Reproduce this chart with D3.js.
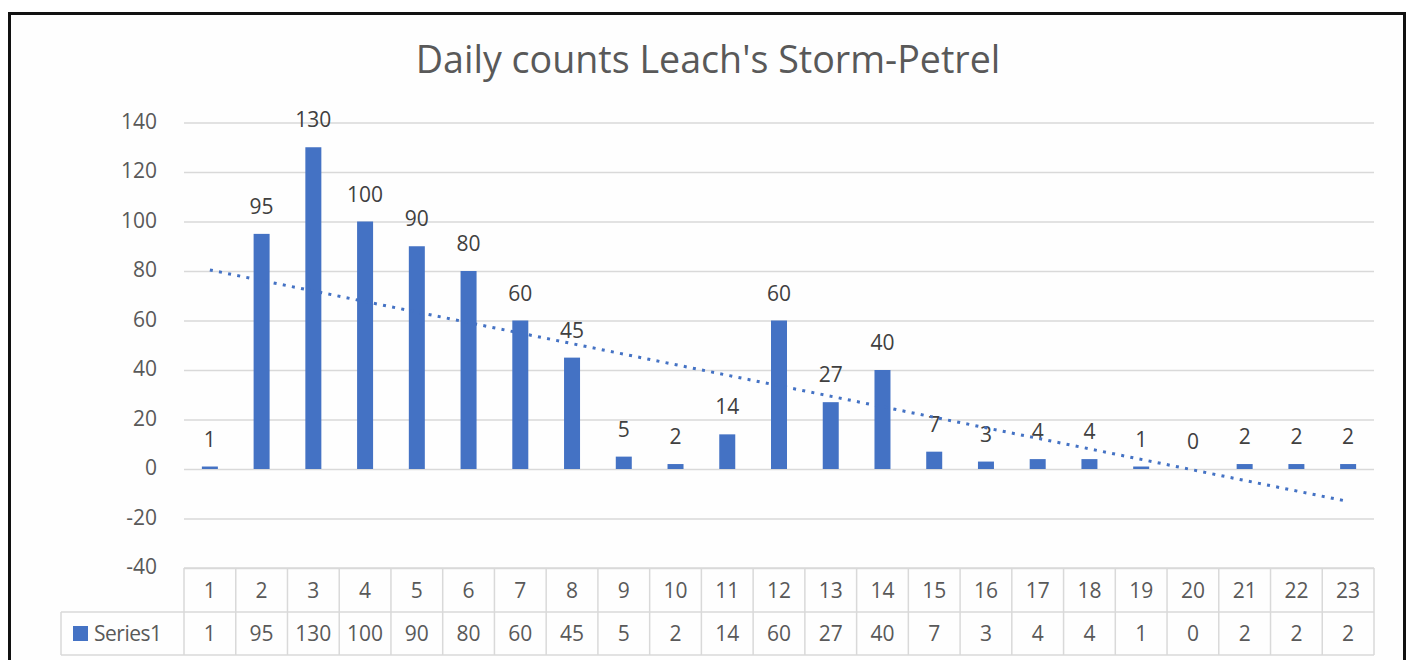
<!DOCTYPE html>
<html>
<head>
<meta charset="utf-8">
<script src="https://cdn.jsdelivr.net/npm/d3@7"></script>
<style>
  html, body { margin: 0; padding: 0; background: #ffffff; }
  svg { display: block; }
  text { font-family: "Open Sans", "Noto Sans", "DejaVu Sans", sans-serif; }
</style>
</head>
<body>
<svg id="chart" width="1407" height="660"></svg>
<script>
// ---- data ----
const title = "Daily counts Leach's Storm-Petrel";
const seriesName = "Series1";
const categories = ["1","2","3","4","5","6","7","8","9","10","11","12","13","14","15","16","17","18","19","20","21","22","23"];
const counts = [1,95,130,100,90,80,60,45,5,2,14,60,27,40,7,3,4,4,1,0,2,2,2];
const yTicks = [-40,-20,0,20,40,60,80,100,120,140];

// ---- layout ----
const W = 1407, H = 660;
const plot = { left: 184, right: 1374, top: 122.5, bottom: 568 };
const tableRow1 = { top: 568, bottom: 612 };
const tableRow2 = { top: 612, bottom: 655 };
const legendLeft = 61;
const blue = "#4472C4";
const textGray = "#595959";
const gridGray = "#d9d9d9";

const svg = d3.select("#chart");

svg.append("rect").attr("x", 0).attr("y", 0).attr("width", W).attr("height", H).attr("fill", "#ffffff");
// chart border
svg.append("rect")
  .attr("x", 9.5).attr("y", 13.5).attr("width", 1395).attr("height", 700)
  .attr("fill", "#fefefe").attr("stroke", "#111").attr("stroke-width", 3);

const x = d3.scaleBand().domain(categories).range([plot.left, plot.right]).padding(0);
const y = d3.scaleLinear().domain([-40, 140]).range([plot.bottom, plot.top]);

// gridlines
const yAxis = d3.axisLeft(y).tickValues(yTicks).tickSize(-(plot.right - plot.left)).tickPadding(27).tickFormat(d => String(d));
const gy = svg.append("g").attr("transform", `translate(${plot.left},0)`).call(yAxis);
gy.select(".domain").remove();
gy.selectAll(".tick line").attr("stroke", gridGray).attr("stroke-width", 1.5);
gy.selectAll(".tick text")
  .attr("fill", textGray).attr("font-size", 21).attr("dy", "0.28em")
  .style("font-family", "'Open Sans', 'Noto Sans', sans-serif");

// title
const titleText = svg.append("text")
  .attr("x", 708).attr("y", 73)
  .attr("text-anchor", "middle")
  .attr("fill", textGray)
  .attr("font-size", 31)
  .text(title);
// fit width to reference (~585px)
const tw = titleText.node().getComputedTextLength();
if (tw > 0) titleText.attr("font-size", 31 * 585 / tw);

// bars
const barW = 16;
svg.append("g").selectAll("rect")
  .data(counts)
  .join("rect")
  .attr("x", (d, i) => x(categories[i]) + x.bandwidth() / 2 - barW / 2)
  .attr("y", d => y(Math.max(0, d)))
  .attr("width", barW)
  .attr("height", d => Math.abs(y(d) - y(0)))
  .attr("fill", blue);

// data labels
svg.append("g").selectAll("text")
  .data(counts)
  .join("text")
  .attr("x", (d, i) => x(categories[i]) + x.bandwidth() / 2)
  .attr("y", d => y(Math.max(0, d)) - 20)
  .attr("text-anchor", "middle")
  .attr("fill", "#404040")
  .attr("font-size", 21)
  .text(d => d);

// linear trendline (least squares fit, as Excel computes)
const xs = counts.map((d, i) => i + 1);
const n = counts.length;
const mx = d3.mean(xs), my = d3.mean(counts);
const sxy = d3.sum(xs, (xi, i) => (xi - mx) * (counts[i] - my));
const sxx = d3.sum(xs, xi => (xi - mx) * (xi - mx));
const slope = sxy / sxx, intercept = my - slope * mx;
const trendPts = [0, n - 1].map(i => [x(categories[i]) + x.bandwidth() / 2, y(intercept + slope * (i + 1))]);
svg.append("path")
  .attr("d", d3.line()(trendPts))
  .attr("fill", "none")
  .attr("stroke", blue)
  .attr("stroke-width", 3)
  .attr("stroke-dasharray", "3 6.3");

// ---- data table ----
const tg = svg.append("g");
// horizontal lines
tg.append("line").attr("x1", plot.left).attr("x2", plot.right).attr("y1", tableRow1.top).attr("y2", tableRow1.top);
tg.append("line").attr("x1", legendLeft).attr("x2", plot.right).attr("y1", tableRow2.top).attr("y2", tableRow2.top);
tg.append("line").attr("x1", legendLeft).attr("x2", plot.right).attr("y1", tableRow2.bottom).attr("y2", tableRow2.bottom);
// vertical lines
const bounds = categories.map(c => x(c)).concat([plot.right]);
tg.selectAll("line.v").data(bounds).join("line").attr("class", "v")
  .attr("x1", d => d).attr("x2", d => d)
  .attr("y1", tableRow1.top).attr("y2", tableRow2.bottom);
tg.append("line").attr("x1", legendLeft).attr("x2", legendLeft).attr("y1", tableRow2.top).attr("y2", tableRow2.bottom);
tg.selectAll("line").attr("stroke", gridGray).attr("stroke-width", 1.5);

// category row
tg.selectAll("text.cat").data(categories).join("text").attr("class", "cat")
  .attr("x", d => x(d) + x.bandwidth() / 2)
  .attr("y", (tableRow1.top + tableRow1.bottom) / 2)
  .attr("dy", "0.36em")
  .attr("text-anchor", "middle")
  .attr("fill", textGray).attr("font-size", 21)
  .text(d => d);

// value row
tg.selectAll("text.val").data(counts).join("text").attr("class", "val")
  .attr("x", (d, i) => x(categories[i]) + x.bandwidth() / 2)
  .attr("y", (tableRow2.top + tableRow2.bottom) / 2)
  .attr("dy", "0.36em")
  .attr("text-anchor", "middle")
  .attr("fill", textGray).attr("font-size", 21)
  .text(d => d);

// legend key in table
const rowMid = (tableRow2.top + tableRow2.bottom) / 2;
tg.append("rect").attr("x", 73).attr("y", rowMid - 7.5).attr("width", 15).attr("height", 15).attr("fill", blue);
tg.append("text").attr("x", 94).attr("y", rowMid).attr("dy", "0.36em")
  .attr("fill", textGray).attr("font-size", 21).attr("letter-spacing", -0.5)
  .text(seriesName);
</script>
</body>
</html>
